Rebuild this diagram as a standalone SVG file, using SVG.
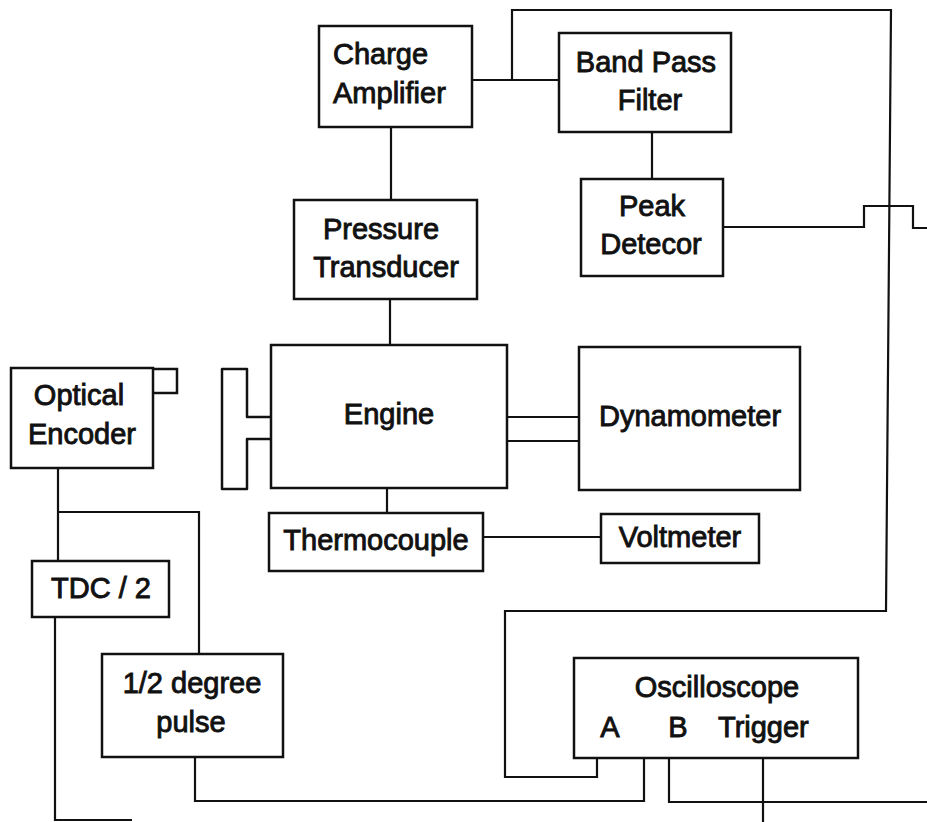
<svg xmlns="http://www.w3.org/2000/svg" width="927" height="822" viewBox="0 0 927 822">
<style>
.box{fill:none;stroke:#111;stroke-width:2.5}
.ln{fill:none;stroke:#111;stroke-width:2.2}
text{font-family:"Liberation Sans",Arial,Helvetica,sans-serif;font-size:29px;fill:#111;stroke:#111;stroke-width:0.9;text-anchor:middle}
</style>
<rect width="927" height="822" fill="#fff"/>
<g id="connectors">
<path class="ln" d="M472,80 H559"/>
<path class="ln" d="M512,80 V10 H891 L886,611 H505 V777 H597 V758"/>
<path class="ln" d="M391,127 V200"/>
<path class="ln" d="M390,299 V345"/>
<path class="ln" d="M652,132 V179"/>
<path class="ln" d="M723,227 H864 V206 H913 V228 H927"/>
<path class="ln" d="M387,488 V513"/>
<path class="ln" d="M483,537 H601"/>
<path class="ln" d="M507,417 H579 M507,441 H579"/>
<path class="ln" d="M58,468 V561 M58,512 H199 V654"/>
<path class="ln" d="M55,617 V820 H132"/>
<path class="ln" d="M195,757 V801 H644 V758"/>
<path class="ln" d="M669,758 V802 H927"/>
<path class="ln" d="M763,758 V822"/>
</g>
<g id="charge-amplifier">
<rect class="box" x="319" y="26" width="153" height="101"/>
<text x="333" y="64" style="text-anchor:start">Charge</text>
<text x="333" y="103" style="text-anchor:start">Amplifier</text>
</g>
<g id="band-pass-filter">
<rect class="box" x="559" y="33" width="172" height="99"/>
<text x="646" y="72">Band Pass</text>
<text x="650" y="110">Filter</text>
</g>
<g id="pressure-transducer">
<rect class="box" x="294" y="200" width="183" height="99"/>
<text x="381" y="239">Pressure</text>
<text x="386" y="277">Transducer</text>
</g>
<g id="peak-detector">
<rect class="box" x="581" y="179" width="142" height="97"/>
<text x="652" y="216">Peak</text>
<text x="651" y="254">Detecor</text>
</g>
<g id="optical-encoder">
<rect class="box" x="11" y="368" width="142" height="100"/>
<path class="box" d="M153,369 H177 V393 H153"/>
<text x="79" y="405">Optical</text>
<text x="82" y="444">Encoder</text>
</g>
<g id="engine">
<rect class="box" x="271" y="345" width="236" height="143"/>
<path class="box" d="M271,417 H247 V369 H222 V489 H247 V439 H271" stroke-linejoin="round"/>
<text x="389" y="424">Engine</text>
</g>
<g id="dynamometer">
<rect class="box" x="579" y="347" width="221" height="143"/>
<text x="690" y="426">Dynamometer</text>
</g>
<g id="thermocouple">
<rect class="box" x="269" y="513" width="214" height="58"/>
<text x="376" y="550">Thermocouple</text>
</g>
<g id="voltmeter">
<rect class="box" x="601" y="514" width="158" height="49"/>
<text x="680" y="547">Voltmeter</text>
</g>
<g id="tdc-2">
<rect class="box" x="32" y="561" width="137" height="56"/>
<text x="101" y="598">TDC / 2</text>
</g>
<g id="half-degree-pulse">
<rect class="box" x="102" y="654" width="181" height="103"/>
<text x="192" y="693">1/2 degree</text>
<text x="191" y="732">pulse</text>
</g>
<g id="oscilloscope">
<rect class="box" x="574" y="658" width="284" height="100"/>
<text x="717" y="697">Oscilloscope</text>
<text x="610" y="737">A</text>
<text x="678" y="737">B</text>
<text x="718" y="737" style="text-anchor:start">Trigger</text>
</g>
</svg>
